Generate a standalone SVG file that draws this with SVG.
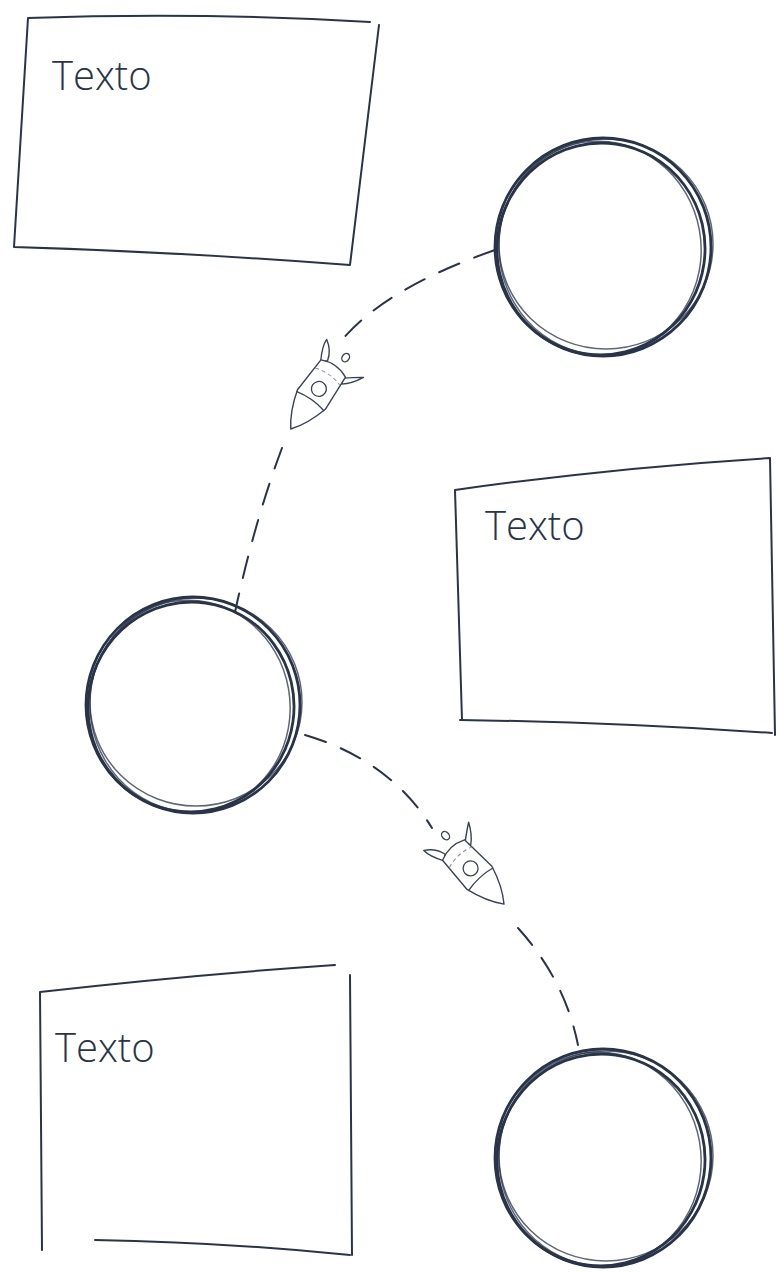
<svg xmlns="http://www.w3.org/2000/svg" width="776" height="1273" viewBox="0 0 776 1273">
<style>
.ln{fill:none;stroke:#2a3449;stroke-width:2;stroke-linecap:round;stroke-linejoin:round}
.c{fill:none;stroke:#2a3449;stroke-width:2.8}
.c2{fill:none;stroke:#2a3449;stroke-width:1.5;opacity:.75}
.dash{fill:none;stroke:#2a3449;stroke-width:2;stroke-dasharray:22 16;stroke-linecap:round}
.t{font-family:"Open Sans","Liberation Sans",sans-serif;font-weight:300;font-size:40px;fill:#2a3449}
.r{fill:#fff;stroke:#3a4458;stroke-width:1.4;stroke-linejoin:round}
.rl{fill:none;stroke:#3a4458;stroke-width:1.3}
.rd{fill:none;stroke:#8a90a0;stroke-width:1;stroke-dasharray:4 3}
</style>
<defs>
<g id="rocket">
<path class="r" d="M-14,-28 Q-22,-42 -22,-50 Q-12,-44 -9,-33 Z"/>
<path class="r" d="M14,-28 Q24,-36 30,-40 Q24,-28 16,-22 Z"/>
<path class="r" d="M-15,-30 Q0,-37 15,-30 L17,8 Q11,30 0,44 Q-11,30 -17,8 Z"/>
<path class="rd" d="M-15,-20 Q0,-25 15,-20"/>
<path class="rl" d="M-17,10 Q0,6 17,10"/>
<circle class="rl" cx="0" cy="-5" r="7.5"/>
<ellipse class="r" cx="4" cy="-46" rx="3.5" ry="4.5"/>
</g>
</defs>
<g id="box1">
<path class="ln" d="M28,18 Q200,12 370,22 M379,25 L350,265 M350,265 Q180,252 14,247 M14,247 L28,18"/>
<text class="t" x="52" y="90">Texto</text>
</g>
<g id="box2">
<path class="ln" d="M455,490 Q610,468 770,458 M770,458 L775,735 M772,733 Q610,722 460,720 M462,720 L455,490"/>
<text class="t" x="485" y="540">Texto</text>
</g>
<g id="box3">
<path class="ln" d="M40,992 Q190,975 335,965 M350,975 L352,1255 M350,1255 Q220,1242 95,1240 M42,1250 L40,992"/>
<text class="t" x="55" y="1062">Texto</text>
</g>
<g id="circle1">
<ellipse class="c" cx="603" cy="247" rx="108" ry="109"/>
<ellipse class="c" cx="601" cy="249" rx="104" ry="106" transform="rotate(8 601 249)"/>
<ellipse class="c2" cx="606" cy="244" rx="107" ry="105"/>
<ellipse class="c2" cx="600" cy="248" rx="101" ry="107" transform="rotate(-10 600 248)"/>
</g>
<g id="circle2">
<ellipse class="c" cx="193" cy="705" rx="107" ry="108"/>
<ellipse class="c" cx="191" cy="707" rx="103" ry="105" transform="rotate(8 191 707)"/>
<ellipse class="c2" cx="196" cy="702" rx="106" ry="104"/>
<ellipse class="c2" cx="190" cy="706" rx="100" ry="106" transform="rotate(-10 190 706)"/>
</g>
<g id="circle3">
<ellipse class="c" cx="603" cy="1158" rx="108" ry="109"/>
<ellipse class="c" cx="601" cy="1160" rx="104" ry="106" transform="rotate(8 601 1160)"/>
<ellipse class="c2" cx="606" cy="1156" rx="107" ry="105"/>
<ellipse class="c2" cx="600" cy="1159" rx="101" ry="107" transform="rotate(-10 600 1159)"/>
</g>
<g id="connectors">
<path class="dash" d="M495,250 Q380,290 338,345"/>
<path class="dash" d="M282,448 Q255,520 235,612"/>
<path class="dash" d="M305,735 Q390,760 432,828"/>
<path class="dash" d="M518,928 Q565,980 578,1045"/>
</g>
<g id="rocket1"><use href="#rocket" transform="translate(316,393) rotate(35)"/></g>
<g id="rocket2"><use href="#rocket" transform="translate(474,872) rotate(-43)"/></g>
</svg>
